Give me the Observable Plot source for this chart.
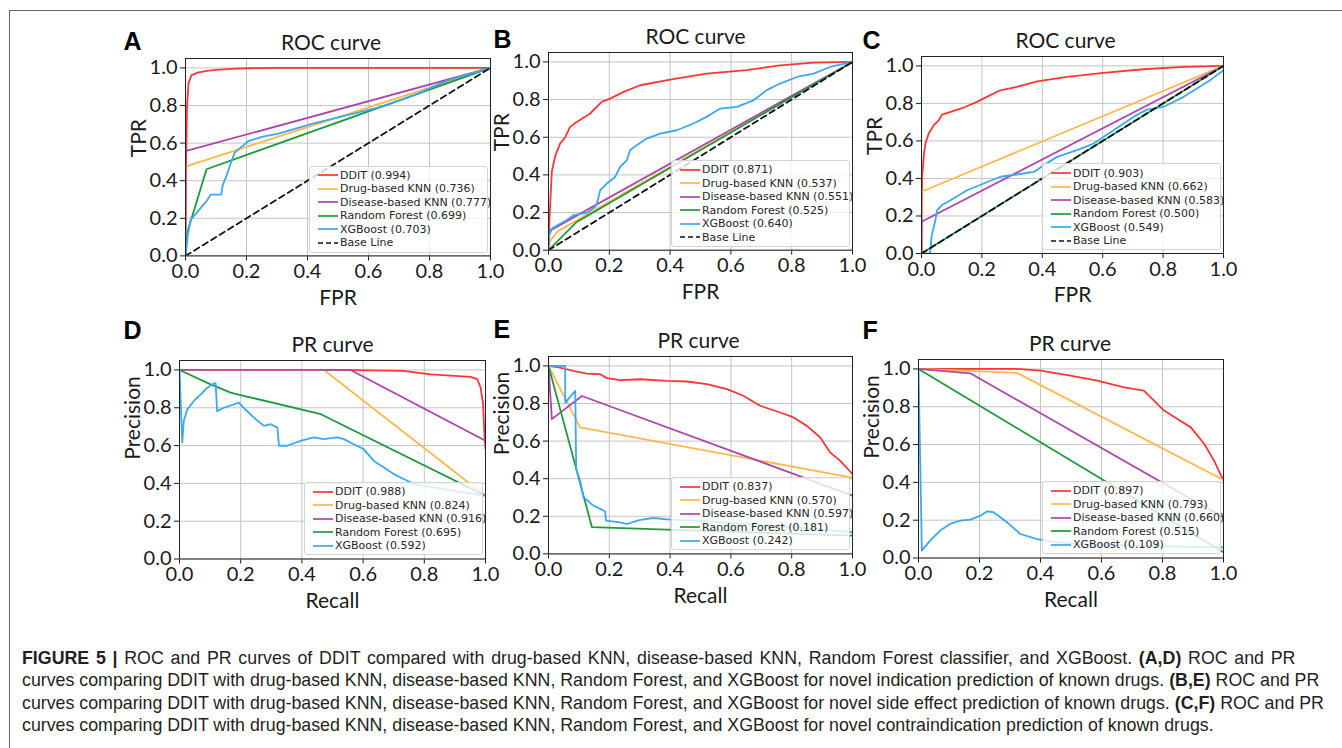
<!DOCTYPE html>
<html><head><meta charset="utf-8">
<script src="https://cdn.jsdelivr.net/npm/d3@7"></script>
<script src="https://cdn.jsdelivr.net/npm/@observablehq/plot@0.6"></script>
<style>
body{margin:0;background:#fff;}
#fig{position:relative;width:1342px;height:748px;overflow:hidden;background:#fff;}
#border{position:absolute;left:9px;top:10px;width:1400px;height:800px;border-top:1px solid #666;border-left:1px solid #666;}
.panel{position:absolute;}
.legend{position:absolute;box-sizing:border-box;border:1px solid #d4d4d4;border-radius:3px;background:rgba(255,255,255,0.8);padding:2px 0 2px 8px;font-family:"DejaVu Sans",sans-serif;font-size:11px;color:#262626;}
.legend .row{display:flex;align-items:center;height:13.5px;white-space:nowrap;}
.legend svg{margin-right:2px;flex:none;}
#caption{position:absolute;left:22px;top:647px;font-family:"Liberation Sans",Arial,sans-serif;font-size:17.8px;line-height:22.3px;color:#231f20;white-space:nowrap;}
#caption b{font-weight:bold;}
#caption .l1{word-spacing:1.8px;}
</style></head><body><div id="fig"><div id="border"></div></div>
<script>
// ---------- data ----------
const methods = ["DDIT", "Drug-based KNN", "Disease-based KNN", "Random Forest", "XGBoost"];
const baseLabel = "Base Line";
const ticks = [0, 0.2, 0.4, 0.6, 0.8, 1.0];
const panelLetters = ["A", "B", "C", "D", "E", "F"];
const panelTitles = ["ROC curve", "ROC curve", "ROC curve", "PR curve", "PR curve", "PR curve"];
const xLabels = ["FPR", "FPR", "FPR", "Recall", "Recall", "Recall"];
const yLabels = ["TPR", "TPR", "TPR", "Precision", "Precision", "Precision"];

const aucA = [0.994, 0.736, 0.777, 0.699, 0.703];
const aucB = [0.871, 0.537, 0.551, 0.525, 0.640];
const aucC = [0.903, 0.662, 0.583, 0.500, 0.549];
const aucD = [0.988, 0.824, 0.916, 0.695, 0.592];
const aucE = [0.837, 0.570, 0.597, 0.181, 0.242];
const aucF = [0.897, 0.793, 0.660, 0.515, 0.109];

const baseROC = [[0, 0], [1, 1]];

// Panel A: ROC, novel indication
const A_ddit = [[0,0],[0.002,0.5],[0.005,0.8],[0.01,0.92],[0.02,0.962],[0.04,0.975],[0.07,0.984],[0.1,0.99],[0.15,0.995],[0.2,0.998],[0.3,1],[1,1]];
const A_drug = [[0,0],[0,0.475],[1,1]];
const A_dis = [[0,0],[0,0.557],[1,1]];
const A_rf = [[0,0],[0.005,0.1],[0.01,0.15],[0.02,0.2],[0.069,0.461],[1,1]];
const A_xgb = [[0,0],[0.008,0.12],[0.017,0.19],[0.039,0.234],[0.067,0.287],[0.083,0.326],[0.117,0.326],[0.122,0.376],[0.133,0.42],[0.144,0.473],[0.156,0.527],[0.161,0.548],[0.183,0.58],[0.206,0.61],[0.25,0.633],[0.305,0.65],[0.417,0.704],[0.528,0.748],[0.64,0.793],[0.75,0.855],[0.86,0.934],[1,1]];

// Panel B: ROC, novel side effect
const B_ddit = [[0,0],[0.003,0.16],[0.011,0.42],[0.022,0.5],[0.038,0.566],[0.055,0.6],[0.071,0.655],[0.093,0.681],[0.137,0.726],[0.175,0.788],[0.203,0.805],[0.247,0.841],[0.302,0.876],[0.4,0.906],[0.52,0.938],[0.652,0.956],[0.762,0.982],[0.872,0.996],[1,1]];
const B_drug = [[0,0],[0.005,0.05],[0.03,0.1],[1,1]];
const B_dis = [[0,0],[0,0.1],[1,1]];
const B_rf = [[0,0],[0.093,0.15],[1,1]];
const B_xgb = [[0,0],[0.001,0.07],[0.011,0.115],[0.06,0.16],[0.082,0.186],[0.126,0.198],[0.154,0.23],[0.161,0.257],[0.17,0.319],[0.192,0.354],[0.219,0.389],[0.236,0.442],[0.258,0.478],[0.268,0.531],[0.29,0.558],[0.323,0.593],[0.367,0.619],[0.422,0.637],[0.477,0.673],[0.52,0.708],[0.565,0.752],[0.62,0.761],[0.674,0.796],[0.718,0.85],[0.762,0.885],[0.817,0.92],[0.872,0.938],[0.926,0.973],[1,1]];

// Panel C: ROC, novel contraindication
const C_ddit = [[0,0],[0.002,0.41],[0.008,0.53],[0.013,0.586],[0.024,0.64],[0.041,0.684],[0.057,0.71],[0.068,0.74],[0.096,0.755],[0.14,0.778],[0.184,0.808],[0.228,0.844],[0.261,0.87],[0.316,0.888],[0.383,0.918],[0.482,0.941],[0.603,0.963],[0.735,0.982],[0.868,0.995],[1,1]];
const C_drug = [[0,0],[0,0.329],[1,1]];
const C_dis = [[0,0],[0,0.169],[1,1]];
const C_rf = [[0,0],[1,1]];
const C_xgb = [[0,0],[0.028,0],[0.03,0.018],[0.033,0.09],[0.046,0.178],[0.052,0.231],[0.068,0.258],[0.096,0.284],[0.151,0.337],[0.206,0.373],[0.261,0.409],[0.316,0.421],[0.372,0.435],[0.405,0.471],[0.449,0.515],[0.515,0.551],[0.57,0.586],[0.636,0.657],[0.702,0.728],[0.746,0.767],[0.802,0.782],[0.868,0.835],[0.912,0.879],[0.956,0.924],[1,0.977]];

// Panel D: PR, novel indication
const D_ddit = [[0,1],[0.5,1],[0.733,0.995],[0.82,0.977],[0.951,0.963],[0.973,0.951],[0.984,0.907],[0.992,0.82],[0.997,0.643],[1,0.581]];
const D_drug = [[0,1],[0.472,1],[1,0.335]];
const D_dis = [[0,1],[0.559,1],[1,0.625]];
const D_rf = [[0,1],[0.1,0.925],[0.167,0.88],[0.21,0.863],[0.462,0.766],[1,0.335]];
const D_xgb = [[0,1],[0.009,0.616],[0.014,0.73],[0.025,0.79],[0.047,0.836],[0.069,0.87],[0.09,0.905],[0.112,0.928],[0.118,0.93],[0.123,0.782],[0.145,0.8],[0.178,0.818],[0.194,0.827],[0.21,0.8],[0.243,0.748],[0.276,0.704],[0.298,0.713],[0.32,0.695],[0.325,0.599],[0.352,0.599],[0.395,0.625],[0.439,0.643],[0.472,0.634],[0.515,0.643],[0.537,0.634],[0.57,0.607],[0.602,0.581],[0.635,0.519],[0.668,0.484],[0.7,0.449],[0.733,0.423],[0.766,0.396],[0.81,0.384],[0.864,0.37],[0.929,0.352],[1,0.335]];

// Panel E: PR, novel side effect
const E_ddit = [[0,1],[0.038,0.991],[0.082,0.973],[0.126,0.959],[0.17,0.956],[0.192,0.935],[0.236,0.924],[0.302,0.929],[0.389,0.92],[0.455,0.917],[0.521,0.903],[0.587,0.876],[0.641,0.841],[0.696,0.788],[0.762,0.752],[0.806,0.726],[0.85,0.681],[0.894,0.619],[0.926,0.54],[0.959,0.496],[1,0.425]];
const E_drug = [[0,1],[0.104,0.673],[1,0.405]];
const E_dis = [[0,1],[0.011,0.717],[0.11,0.84],[1,0.31]];
const E_rf = [[0,1],[0.143,0.142],[1,0.097]];
const E_xgb = [[0,1],[0.055,1],[0.055,0.805],[0.088,0.867],[0.091,0.451],[0.104,0.389],[0.115,0.301],[0.148,0.257],[0.186,0.227],[0.189,0.177],[0.236,0.168],[0.258,0.159],[0.302,0.181],[0.345,0.191],[0.4,0.182],[0.5,0.175],[0.6,0.165],[0.7,0.155],[0.8,0.142],[0.872,0.133],[1,0.115]];

// Panel F: PR, novel contraindication
const F_ddit = [[0,1],[0.323,1],[0.4,0.991],[0.498,0.965],[0.586,0.938],[0.674,0.903],[0.739,0.885],[0.772,0.832],[0.805,0.78],[0.849,0.735],[0.893,0.691],[0.937,0.603],[0.969,0.515],[1,0.409]];
const F_drug = [[0,1],[0.323,0.979],[1,0.413]];
const F_dis = [[0,1],[0.17,0.977],[1,0.214]];
const F_rf = [[0,1],[1,0.03]];
const F_xgb = [[0,1],[0.011,0.039],[0.038,0.092],[0.071,0.145],[0.104,0.18],[0.137,0.198],[0.17,0.203],[0.203,0.224],[0.225,0.247],[0.246,0.242],[0.29,0.189],[0.334,0.127],[0.389,0.1],[0.455,0.083],[0.55,0.072],[0.7,0.065],[0.85,0.06],[1,0.056]];

// ---------- styles / layout ----------
const colors = ["#ff3535", "#ffb84a", "#ad45ad", "#1d9a3a", "#3aa8f2"];
const fontMain = "Lato, 'Open Sans', sans-serif";
// plot-area boxes in page pixels [left, right, top, bottom]
const boxes = [
  [185, 490, 58.3, 255.7], [548, 852, 52.3, 250], [921, 1223, 56.3, 253.3],
  [179, 485, 359.8, 558.3], [548, 852, 355.9, 553.3], [918, 1223, 358.8, 557.3]
];
const letterOffsets = [[-62, -8], [-55, -4], [-59, -8], [-56, -22], [-55, -18], [-56, -21]];
const titleDx = [-7, -5, -7, 0, -2, -1];

const panels = [
  {series: [A_ddit, A_drug, A_dis, A_rf, A_xgb], auc: aucA, base: true},
  {series: [B_ddit, B_drug, B_dis, B_rf, B_xgb], auc: aucB, base: true},
  {series: [C_ddit, C_drug, C_dis, C_rf, C_xgb], auc: aucC, base: true},
  {series: [D_ddit, D_drug, D_dis, D_rf, D_xgb], auc: aucD, base: false},
  {series: [E_ddit, E_drug, E_dis, E_rf, E_xgb], auc: aucE, base: false},
  {series: [F_ddit, F_drug, F_dis, F_rf, F_xgb], auc: aucF, base: false}
];

const fig = document.getElementById("fig");
const M = {top: 50, right: 30, bottom: 60, left: 80};
const fmt = d3.format(".1f");

panels.forEach((p, i) => {
  const [L, R, T, B] = boxes[i];
  const w = R - L, h = B - T;
  const lineMarks = p.series.map((s, k) => Plot.line(s, {x: d => d[0], y: d => d[1], stroke: colors[k], strokeWidth: 1.8, clip: true}));
  if (p.base) lineMarks.push(Plot.line(baseROC, {x: d => d[0], y: d => d[1], stroke: "#111", strokeWidth: 1.8, strokeDasharray: "6,4", clip: true}));
  const chart = Plot.plot({
    width: w + M.left + M.right,
    height: h + M.top + M.bottom,
    marginTop: M.top, marginRight: M.right, marginBottom: M.bottom, marginLeft: M.left,
    style: {fontFamily: fontMain, fontSize: "20px", color: "#1a1a1a", background: "transparent", overflow: "visible"},
    x: {domain: [0, 1], ticks: ticks, tickFormat: fmt, tickSize: 5, tickPadding: 3, label: null},
    y: {domain: [0, 1.05], ticks: ticks, tickFormat: fmt, tickSize: 5, tickPadding: 3, label: null},
    marks: [
      Plot.ruleX(ticks, {stroke: "#c4c4c4", strokeWidth: 1}),
      Plot.ruleY(ticks, {stroke: "#c4c4c4", strokeWidth: 1}),
      ...lineMarks,
      Plot.frame({stroke: "#222", strokeWidth: 1}),
      Plot.text([panelTitles[i]], {frameAnchor: "top", dy: -15, dx: titleDx[i], lineAnchor: "middle", fontSize: 21, fill: "#1a1a1a"}),
      Plot.text([panelLetters[i]], {frameAnchor: "top-left", textAnchor: "start", lineAnchor: "bottom", dx: letterOffsets[i][0], dy: letterOffsets[i][1], fontFamily: "'Liberation Sans', Arial, sans-serif", fontWeight: "bold", fontSize: 25, fill: "#000"}),
      Plot.text([xLabels[i]], {frameAnchor: "bottom", dy: 42, lineAnchor: "middle", fontSize: 21, fill: "#1a1a1a"}),
      Plot.text([yLabels[i]], {frameAnchor: "left", dx: -46, rotate: -90, lineAnchor: "middle", fontSize: 21, fill: "#1a1a1a"})
    ]
  });
  const wrap = document.createElement("div");
  wrap.className = "panel";
  wrap.style.left = (L - M.left) + "px";
  wrap.style.top = (T - M.top) + "px";
  wrap.appendChild(chart);
  fig.appendChild(wrap);

  // legend (lower right, inside the axes)
  const leg = document.createElement("div");
  leg.className = "legend";
  leg.style.left = (R - 181) + "px";
  leg.style.width = "179px";
  leg.style.bottom = (748 - B + 3) + "px";
  const entries = methods.map((m, k) => ({label: `${m} (${p.auc[k].toFixed(3)})`, color: colors[k], dash: null}));
  if (p.base) entries.push({label: baseLabel, color: "#111", dash: "5,3"});
  entries.forEach(e => {
    const row = document.createElement("div");
    row.className = "row";
    row.innerHTML = `<svg width="20" height="10"><line x1="0" x2="20" y1="5" y2="5" stroke="${e.color}" stroke-width="1.7" ${e.dash ? `stroke-dasharray="${e.dash}"` : ""}/></svg><span>${e.label}</span>`;
    leg.appendChild(row);
  });
  fig.appendChild(leg);
});

const cap = document.createElement("div");
cap.id = "caption";
cap.innerHTML = [
  "<span class=\"l1\"><b>FIGURE 5 |</b> ROC and PR curves of DDIT compared with drug-based KNN, disease-based KNN, Random Forest classifier, and XGBoost. <b>(A,D)</b> ROC and PR</span>",
  "curves comparing DDIT with drug-based KNN, disease-based KNN, Random Forest, and XGBoost for novel indication prediction of known drugs. <b>(B,E)</b> ROC and PR",
  "curves comparing DDIT with drug-based KNN, disease-based KNN, Random Forest, and XGBoost for novel side effect prediction of known drugs. <b>(C,F)</b> ROC and PR",
  "curves comparing DDIT with drug-based KNN, disease-based KNN, Random Forest, and XGBoost for novel contraindication prediction of known drugs."
].join("<br>");
fig.appendChild(cap);
</script>
</body></html>
